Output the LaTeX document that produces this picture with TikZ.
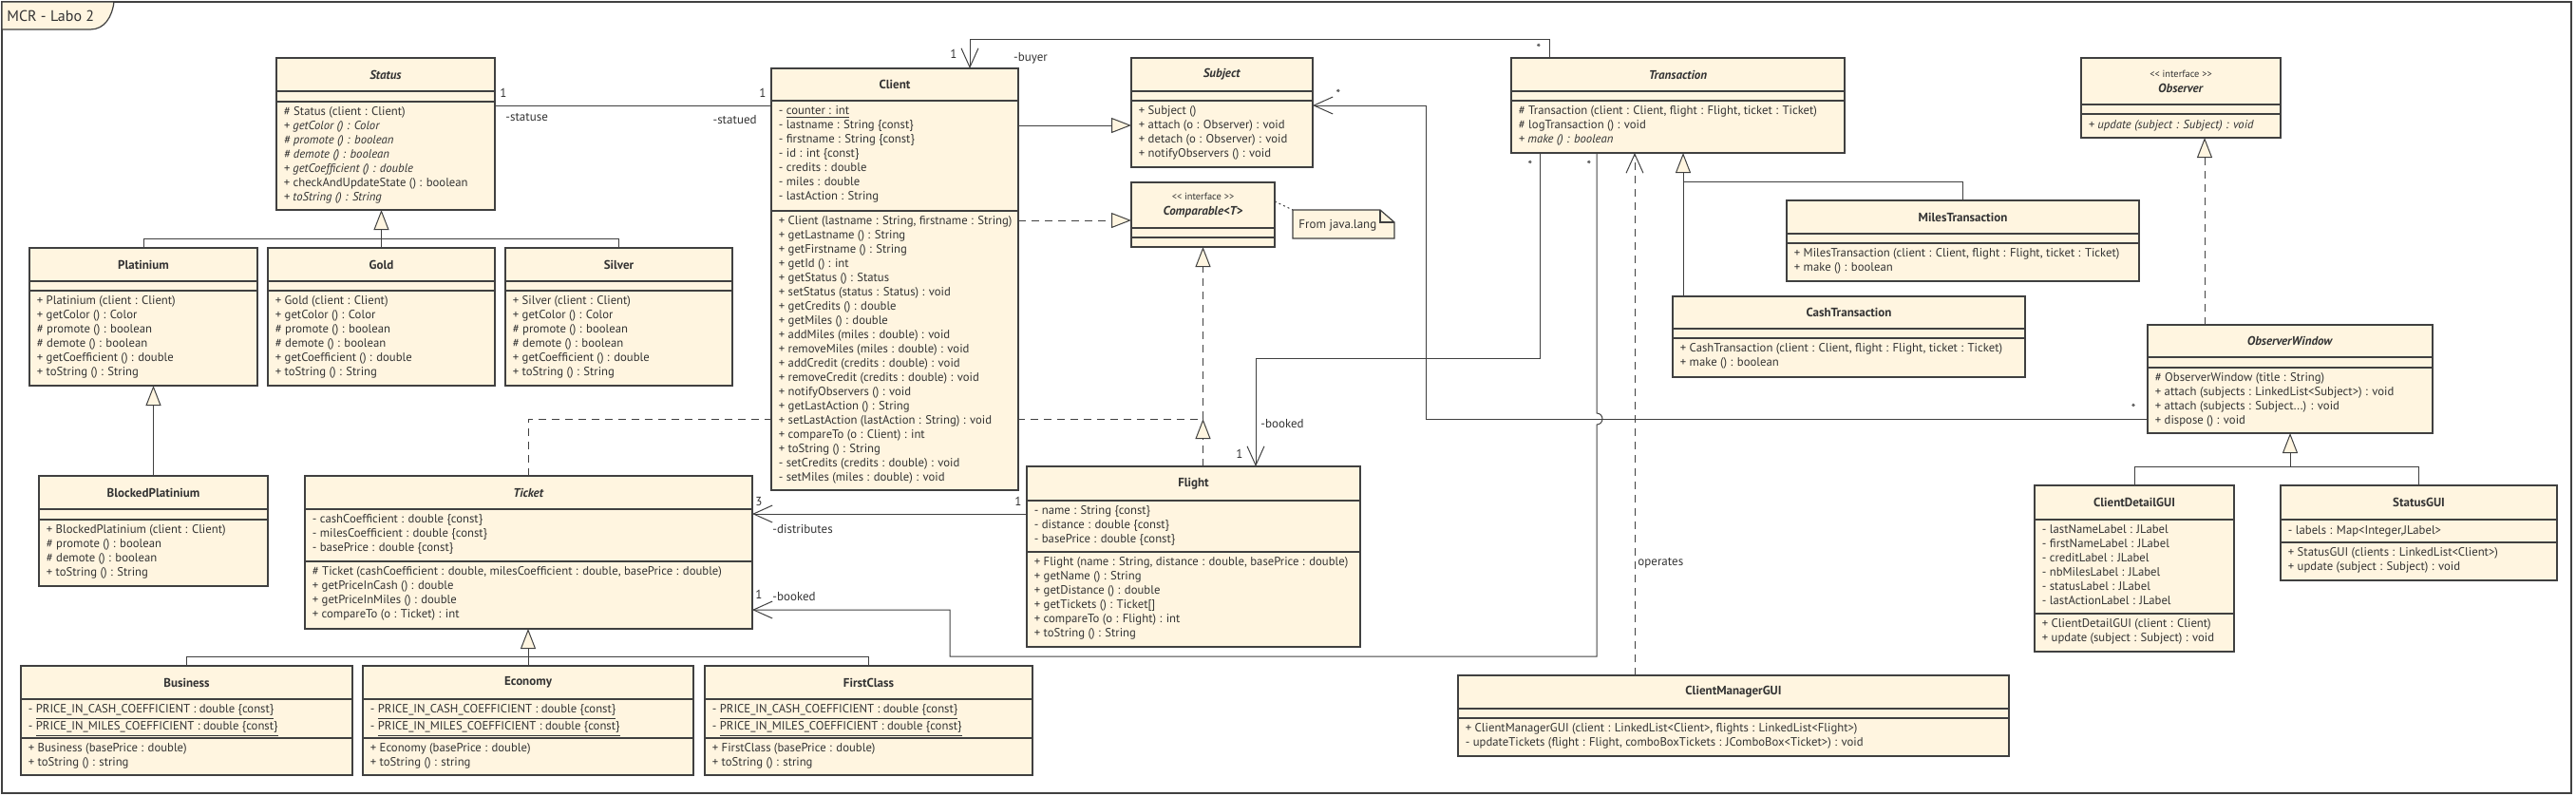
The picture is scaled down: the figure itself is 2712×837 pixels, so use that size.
\documentclass[tikz,border=0pt]{standalone}
\usepackage{fontspec}
\setmainfont{PT Sans}
\usetikzlibrary{arrows.meta}
\pgfdeclarelayer{bg}
\pgfsetlayers{bg,main}
\definecolor{umlfill}{RGB}{255,245,224}
\definecolor{umlline}{RGB}{64,64,64}
\definecolor{umltext}{RGB}{51,51,51}
\tikzset{
	classbox/.style = {rectangle, draw = umlline, fill = umlfill, line width = 0.6pt, inner sep = 0pt, outer sep = 0pt},
	compline/.style = {draw = umlline, line width = 0.6pt},
	frame/.style = {draw = umlline, line width = 0.6pt},
	frametitle/.style = {inner sep = 0pt, text = umltext, font = {\fontsize{8pt}{9pt}\selectfont}},
	classname/.style = {align = center, inner sep = 0pt, text = umltext, font = {\fontsize{6.5pt}{8pt}\selectfont\bfseries}},
	members/.style = {anchor = north west, align = left, inner sep = 0pt, text = umltext, font = {\fontsize{6.35pt}{7.5pt}\selectfont}, execute at begin node = \strut},
	role/.style = {inner sep = 0pt, text = umltext, font = {\fontsize{6.5pt}{7.5pt}\selectfont}},
	link/.style = {draw = umlline, line width = 0.5pt},
	assoc/.style = {link, -{Straight Barb[length = 10pt, width = 9pt]}},
	inherit/.style = {link, -{Triangle[length = 10.5pt, width = 8pt, fill = umlfill]}},
	realize/.style = {inherit, dash pattern = on 4pt off 3pt},
	depend/.style = {assoc, dash pattern = on 4pt off 3pt},
	notelink/.style = {link, dash pattern = on 1pt off 1.5pt}
}
\newcommand{\umlstereo}[1]{{\fontsize{5.2pt}{6pt}\selectfont\mdseries #1}}
% class box: name, x1, y1, x2, y2, header bottom, attribute bottom, title
\newcommand{\umlclass}[8]{%
	\node[classbox, anchor = north west, minimum width = {(#4-#2)*0.5pt}, minimum height = {(#5-#3)*0.5pt}] (#1) at (#2,#3) {};
	\draw[compline] (#2,#6) -- (#4,#6) (#2,#7) -- (#4,#7);
	\node[classname] (#1-name) at ({(#2+#4)/2},{(#3+#6)/2}) {#8};
}

\begin{document}
\begin{tikzpicture}[x = 0.5pt, y = -0.5pt]
	\useasboundingbox (0,0) rectangle (2712,837);
	
	%%%%%%%% frame %%%%%%%%
	\draw[frame] (2,2) rectangle (2707,835);
	\draw[classbox] (2,2) -- (120,2) .. controls (118,18) and (110,31) .. (95,31) -- (2,31) -- cycle;
	\node[frametitle, anchor = west] (labo) at (7,17) {MCR - Labo 2};
	
	%%%%%%%% 1st part: status and tickets %%%%%%%%
	%% status
	\umlclass{status}{291}{61}{521}{221}{96}{107}{\textit{Status}}
	\node[members] (status-ops) at (298.5,112) {\# Status (client : Client)\\ \textit{+ getColor () : Color}\\ \textit{\# promote () : boolean}\\ \textit{\# demote () : boolean}\\ \textit{+ getCoefficient () : double}\\ + checkAndUpdateState () : boolean\\ \textit{+ toString () : String}};
	\umlclass{platinium}{31}{261}{271}{406}{296}{306}{Platinium}
	\node[members] (platinium-ops) at (38.5,311) {+ Platinium (client : Client)\\ + getColor () : Color\\ \# promote () : boolean\\ \# demote () : boolean\\ + getCoefficient () : double\\ + toString () : String};
	\umlclass{gold}{282}{261}{521}{406}{296}{306}{Gold}
	\node[members] (gold-ops) at (289.5,311) {+ Gold (client : Client)\\ + getColor () : Color\\ \# promote () : boolean\\ \# demote () : boolean\\ + getCoefficient () : double\\ + toString () : String};
	\umlclass{silver}{532}{261}{771}{406}{296}{306}{Silver}
	\node[members] (silver-ops) at (539.5,311) {+ Silver (client : Client)\\ + getColor () : Color\\ \# promote () : boolean\\ \# demote () : boolean\\ + getCoefficient () : double\\ + toString () : String};
	\umlclass{blocked}{41}{501}{282}{617}{536}{547}{BlockedPlatinium}
	\node[members] (blocked-ops) at (48.5,552) {+ BlockedPlatinium (client : Client)\\ \# promote () : boolean\\ \# demote () : boolean\\ + toString () : String};
	
	%% tickets
	\umlclass{ticket}{321}{501}{792}{662}{536}{591}{\textit{Ticket}}
	\node[members] (ticket-attr) at (328.5,541) {- cashCoefficient : double \{const\}\\ - milesCoefficient : double \{const\}\\ - basePrice : double \{const\}};
	\node[members] (ticket-ops) at (328.5,596) {\# Ticket (cashCoefficient : double, milesCoefficient : double, basePrice : double)\\ + getPriceInCash () : double\\ + getPriceInMiles () : double\\ + compareTo (o : Ticket) : int};
	\umlclass{business}{22}{701}{371}{816}{736}{777}{Business}
	\node[members] (business-attr) at (29.5,741) {- \underline{PRICE\_IN\_CASH\_COEFFICIENT : double \{const\}}\\ - \underline{PRICE\_IN\_MILES\_COEFFICIENT : double \{const\}}};
	\node[members] (business-ops) at (29.5,782) {+ Business (basePrice : double)\\ + toString () : string};
	\umlclass{economy}{382}{701}{730}{816}{736}{777}{Economy}
	\node[members] (economy-attr) at (389.5,741) {- \underline{PRICE\_IN\_CASH\_COEFFICIENT : double \{const\}}\\ - \underline{PRICE\_IN\_MILES\_COEFFICIENT : double \{const\}}};
	\node[members] (economy-ops) at (389.5,782) {+ Economy (basePrice : double)\\ + toString () : string};
	\umlclass{firstclass}{742}{701}{1087}{816}{736}{777}{FirstClass}
	\node[members] (firstclass-attr) at (749.5,741) {- \underline{PRICE\_IN\_CASH\_COEFFICIENT : double \{const\}}\\ - \underline{PRICE\_IN\_MILES\_COEFFICIENT : double \{const\}}};
	\node[members] (firstclass-ops) at (749.5,782) {+ FirstClass (basePrice : double)\\ + toString () : string};
	
	%%%%%%%% 2nd part: client and flight %%%%%%%%
	\umlclass{client}{812}{72}{1072}{516}{106}{222}{Client}
	\node[members] (client-attr) at (819.5,111) {- \underline{counter : int}\\ - lastname : String \{const\}\\ - firstname : String \{const\}\\ - id : int \{const\}\\ - credits : double\\ - miles : double\\ - lastAction : String};
	\node[members] (client-ops) at (819.5,227) {+ Client (lastname : String, firstname : String)\\ + getLastname () : String\\ + getFirstname () : String\\ + getId () : int\\ + getStatus () : Status\\ + setStatus (status : Status) : void\\ + getCredits () : double\\ + getMiles () : double\\ + addMiles (miles : double) : void\\ + removeMiles (miles : double) : void\\ + addCredit (credits : double) : void\\ + removeCredit (credits : double) : void\\ + notifyObservers () : void\\ + getLastAction () : String\\ + setLastAction (lastAction : String) : void\\ + compareTo (o : Client) : int\\ + toString () : String\\ - setCredits (credits : double) : void\\ - setMiles (miles : double) : void};
	\umlclass{subject}{1191}{61}{1382}{176}{96}{106}{\textit{Subject}}
	\node[members] (subject-ops) at (1198.5,111) {+ Subject ()\\ + attach (o : Observer) : void\\ + detach (o : Observer) : void\\ + notifyObservers () : void};
	\umlclass{comparable}{1191}{192}{1342}{260}{240}{250}{\umlstereo{<{}< interface >{}>}\\ \textit{Comparable<T>}}
	% note
	\draw[classbox] (1361,221) -- (1453,221) -- (1468,234) -- (1468,251) -- (1361,251) -- cycle;
	\draw[compline] (1453,221) -- (1453,234) -- (1468,234);
	\node[role, anchor = west] (note) at (1367,237) {From java.lang};
	\umlclass{flight}{1081}{491}{1432}{681}{527}{581}{Flight}
	\node[members] (flight-attr) at (1088.5,532) {- name : String \{const\}\\ - distance : double \{const\}\\ - basePrice : double \{const\}};
	\node[members] (flight-ops) at (1088.5,586) {+ Flight (name : String, distance : double, basePrice : double)\\ + getName () : String\\ + getDistance () : double\\ + getTickets () : Ticket[]\\ + compareTo (o : Flight) : int\\ + toString () : String};
	
	%%%%%%%% 3rd part: transactions and windows %%%%%%%%
	\umlclass{trans}{1591}{61}{1942}{161}{96}{106}{\textit{Transaction}}
	\node[members] (trans-ops) at (1598.5,111) {\# Transaction (client : Client, flight : Flight, ticket : Ticket)\\ \# logTransaction () : void\\ \textit{+ make () : boolean}};
	\umlclass{milestr}{1881}{211}{2252}{296}{246}{256}{MilesTransaction}
	\node[members] (milestr-ops) at (1888.5,261) {+ MilesTransaction (client : Client, flight : Flight, ticket : Ticket)\\ + make () : boolean};
	\umlclass{cashtr}{1761}{312}{2132}{397}{346}{356}{CashTransaction}
	\node[members] (cashtr-ops) at (1768.5,361) {+ CashTransaction (client : Client, flight : Flight, ticket : Ticket)\\ + make () : boolean};
	\umlclass{cmgui}{1535}{711}{2115}{796}{746}{756}{ClientManagerGUI}
	\node[members] (cmgui-ops) at (1542.5,761) {+ ClientManagerGUI (client : LinkedList<Client>, flights : LinkedList<Flight>)\\ - updateTickets (flight : Flight, comboBoxTickets : JComboBox<Ticket>) : void};
	\umlclass{observer}{2191}{61}{2401}{145}{110}{120}{\umlstereo{<{}< interface >{}>}\\ \textit{Observer}}
	\node[members] (observer-ops) at (2198.5,125) {\textit{+ update (subject : Subject) : void}};
	\umlclass{obswin}{2261}{342}{2561}{456}{376}{387}{\textit{ObserverWindow}}
	\node[members] (obswin-ops) at (2268.5,392) {\# ObserverWindow (title : String)\\ + attach (subjects : LinkedList<Subject>) : void\\ + attach (subjects : Subject...) : void\\ + dispose () : void};
	\umlclass{detailgui}{2142}{511}{2352}{686}{547}{646}{ClientDetailGUI}
	\node[members] (detailgui-attr) at (2149.5,552) {- lastNameLabel : JLabel\\ - firstNameLabel : JLabel\\ - creditLabel : JLabel\\ - nbMilesLabel : JLabel\\ - statusLabel : JLabel\\ - lastActionLabel : JLabel};
	\node[members] (detailgui-ops) at (2149.5,651) {+ ClientDetailGUI (client : Client)\\ + update (subject : Subject) : void};
	\umlclass{statusgui}{2401}{511}{2692}{611}{547}{571}{StatusGUI}
	\node[members] (statusgui-attr) at (2408.5,552) {- labels : Map<Integer,JLabel>};
	\node[members] (statusgui-ops) at (2408.5,576) {+ StatusGUI (clients : LinkedList<Client>)\\ + update (subject : Subject) : void};
	
	%%% arrows %%%
	\begin{pgfonlayer}{bg}
	% inheritance
	\coordinate (statusbus) at (gold.north |- 0,251);
	\draw[inherit] (gold.north) -- (gold.north |- status.south);
	\draw[link] (platinium.north) |- (statusbus) -| (silver.north);
	\draw[inherit] (blocked.north) -- (blocked.north |- platinium.south);
	\coordinate (ticketbus) at (economy.north |- 0,691);
	\draw[inherit] (economy.north) -- (economy.north |- ticket.south);
	\draw[link] (business.north) |- (ticketbus) -| (firstclass.north);
	\draw[inherit] (client.east |- 0,132) -- (subject.west |- 0,132);
	\coordinate (transbus) at (1772,191);
	\draw[inherit] (cashtr.north -| transbus) -- (trans.south -| transbus);
	\draw[link] (milestr.north) |- (transbus);
	\coordinate (guibus) at (obswin.south |- 0,491);
	\draw[inherit] (guibus) -- (obswin.south);
	\draw[link] (detailgui.north) |- (guibus) -| (statusgui.north);
	
	% realization
	\draw[realize] (client.east |- 0,232) -- (comparable.west |- 0,232);
	\coordinate (cmpbus) at (comparable.south |- 0,441);
	\draw[realize] (ticket.north |- 0,501) |- (cmpbus) -- (comparable.south);
	\draw[realize] (flight.north -| cmpbus) -- (cmpbus);
	\draw[realize] (obswin.north -| 2321,0) -- (observer.south -| 2321,0);
	\draw[notelink] (comparable.east |- 0,212) -- (1361,221);
	
	% associations
	\draw[link] (status.east |- 0,111) -- (client.west |- 0,111);
	\draw[assoc] (trans.north -| 1631,0) |- (1021,41) -- (client.north -| 1021,0);
	\draw[assoc] (trans.south -| 1621,0) |- (1322,377) -- (flight.north -| 1322,0);
	\draw[assoc] (trans.south -| 1681,0) -- (1681,435) arc[start angle = 90, end angle = -90, radius = 3pt] |- (1000,691) |- (ticket.east |- 0,642);
	\draw[assoc] (flight.west |- 0,541) -- (ticket.east |- 0,541);
	\draw[assoc] (obswin.west |- 0,441) -- (1501,441) |- (subject.east |- 0,111);
	\draw[depend] (cmgui.north -| 1721,0) -- (trans.south -| 1721,0);
	\end{pgfonlayer}
	
	% roles and multiplicities
	\node[role] (m-status) at (530,98) {1};
	\node[role, anchor = west] (r-statuse) at (532,124) {-statuse};
	\node[role] (m-client) at (803,98) {1};
	\node[role, anchor = east] (r-statued) at (797,126) {-statued};
	\node[role] (m-buyer) at (1004,57) {1};
	\node[role] (r-buyer) at (1085,61) {-buyer};
	\node[role] (m-buyertr) at (1620,51) {*};
	\node[role] (m-flighttr) at (1611,174) {*};
	\node[role] (m-tickettr) at (1673,174) {*};
	\node[role] (m-flight) at (1305,478) {1};
	\node[role, anchor = west] (r-flight) at (1327,446) {-booked};
	\node[role] (m-distrib) at (1072,528) {1};
	\node[role] (m-tickets) at (799,528) {3};
	\node[role, anchor = west] (r-distrib) at (813,557) {-distributes};
	\node[role] (m-ticket) at (799,626) {1};
	\node[role, anchor = west] (r-ticket) at (813,628) {-booked};
	\node[role] (m-subject) at (1409,99) {*};
	\node[role] (m-obswin) at (2246,430) {*};
	\node[role, anchor = west] (r-operates) at (1724,593) {operates};
\end{tikzpicture}
\end{document}
